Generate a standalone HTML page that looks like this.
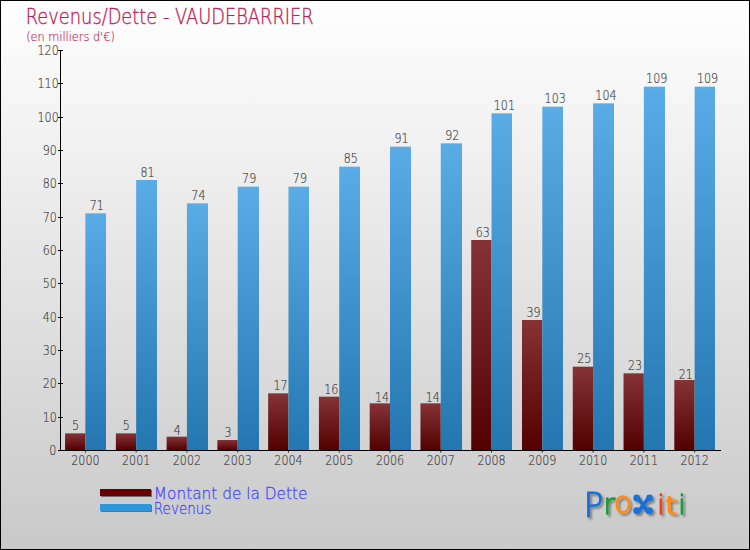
<!DOCTYPE html>
<html lang="fr"><head><meta charset="utf-8"><title>Revenus/Dette - VAUDEBARRIER</title>
<style>html,body{margin:0;padding:0;background:#fff}svg{display:block}text{font-family:"DejaVu Sans","Liberation Sans",sans-serif}</style>
</head><body>
<svg width="750" height="550" viewBox="0 0 750 550">
<defs>
<linearGradient id="bg" x1="0" y1="0" x2="0" y2="1"><stop offset="0" stop-color="#ffffff"/><stop offset="1" stop-color="#c9c9c9"/></linearGradient>
<linearGradient id="gr" x1="0" y1="0" x2="0" y2="1"><stop offset="0" stop-color="#853335"/><stop offset="1" stop-color="#520000"/></linearGradient>
<linearGradient id="gb" x1="0" y1="0" x2="0" y2="1"><stop offset="0" stop-color="#59ace5"/><stop offset="1" stop-color="#2376b0"/></linearGradient>
</defs>
<rect x="0" y="0" width="750" height="550" fill="#000"/>
<rect x="1" y="1" width="748" height="548" fill="url(#bg)"/>
<text transform="translate(25.8 23.8) scale(0.81 1)" font-size="22" fill="#bb2253" stroke="#bb2253" stroke-width="0.35" text-anchor="start" font-weight="200">Revenus/Dette - VAUDEBARRIER</text>
<text transform="translate(26.2 40.9) scale(0.87 1)" font-size="13" fill="#bb2253" stroke="#bb2253" stroke-width="0.18" text-anchor="start" font-weight="200">(en milliers d'€)</text>
<rect x="65.08" y="433.33" width="20.31" height="16.67" fill="url(#gr)"/>
<rect x="85.38" y="213.33" width="20.62" height="236.67" fill="url(#gb)"/>
<rect x="115.85" y="433.33" width="20.31" height="16.67" fill="url(#gr)"/>
<rect x="136.15" y="180" width="20.85" height="270" fill="url(#gb)"/>
<rect x="166.62" y="436.67" width="20.31" height="13.33" fill="url(#gr)"/>
<rect x="186.92" y="203.33" width="21.08" height="246.67" fill="url(#gb)"/>
<rect x="217.38" y="440" width="20.31" height="10" fill="url(#gr)"/>
<rect x="237.69" y="186.67" width="21.31" height="263.33" fill="url(#gb)"/>
<rect x="268.15" y="393.33" width="20.31" height="56.67" fill="url(#gr)"/>
<rect x="288.46" y="186.67" width="20.54" height="263.33" fill="url(#gb)"/>
<rect x="318.92" y="396.67" width="20.31" height="53.33" fill="url(#gr)"/>
<rect x="339.23" y="166.67" width="20.77" height="283.33" fill="url(#gb)"/>
<rect x="369.69" y="403.33" width="20.31" height="46.67" fill="url(#gr)"/>
<rect x="390" y="146.67" width="21" height="303.33" fill="url(#gb)"/>
<rect x="420.46" y="403.33" width="20.31" height="46.67" fill="url(#gr)"/>
<rect x="440.77" y="143.33" width="21.23" height="306.67" fill="url(#gb)"/>
<rect x="471.23" y="240" width="20.31" height="210" fill="url(#gr)"/>
<rect x="491.54" y="113.33" width="20.46" height="336.67" fill="url(#gb)"/>
<rect x="522" y="320" width="20.31" height="130" fill="url(#gr)"/>
<rect x="542.31" y="106.67" width="20.69" height="343.33" fill="url(#gb)"/>
<rect x="572.77" y="366.67" width="20.31" height="83.33" fill="url(#gr)"/>
<rect x="593.08" y="103.33" width="20.92" height="346.67" fill="url(#gb)"/>
<rect x="623.54" y="373.33" width="20.31" height="76.67" fill="url(#gr)"/>
<rect x="643.85" y="86.67" width="21.15" height="363.33" fill="url(#gb)"/>
<rect x="674.31" y="380" width="20.31" height="70" fill="url(#gr)"/>
<rect x="694.62" y="86.67" width="20.38" height="363.33" fill="url(#gb)"/>
<g fill="#000">
<rect x="60" y="50" width="1" height="401"/>
<rect x="60" y="450" width="661" height="1"/>
<rect x="58" y="50" width="5" height="1"/>
<rect x="58" y="83" width="5" height="1"/>
<rect x="58" y="117" width="5" height="1"/>
<rect x="58" y="150" width="5" height="1"/>
<rect x="58" y="183" width="5" height="1"/>
<rect x="58" y="217" width="5" height="1"/>
<rect x="58" y="250" width="5" height="1"/>
<rect x="58" y="283" width="5" height="1"/>
<rect x="58" y="317" width="5" height="1"/>
<rect x="58" y="350" width="5" height="1"/>
<rect x="58" y="383" width="5" height="1"/>
<rect x="58" y="417" width="5" height="1"/>
<rect x="58" y="450" width="5" height="1"/>
<rect x="84.88" y="450" width="1" height="2.6" fill-opacity="0.8"/>
<rect x="135.65" y="450" width="1" height="2.6" fill-opacity="0.8"/>
<rect x="186.42" y="450" width="1" height="2.6" fill-opacity="0.8"/>
<rect x="237.19" y="450" width="1" height="2.6" fill-opacity="0.8"/>
<rect x="287.96" y="450" width="1" height="2.6" fill-opacity="0.8"/>
<rect x="338.73" y="450" width="1" height="2.6" fill-opacity="0.8"/>
<rect x="389.5" y="450" width="1" height="2.6" fill-opacity="0.8"/>
<rect x="440.27" y="450" width="1" height="2.6" fill-opacity="0.8"/>
<rect x="491.04" y="450" width="1" height="2.6" fill-opacity="0.8"/>
<rect x="541.81" y="450" width="1" height="2.6" fill-opacity="0.8"/>
<rect x="592.58" y="450" width="1" height="2.6" fill-opacity="0.8"/>
<rect x="643.35" y="450" width="1" height="2.6" fill-opacity="0.8"/>
<rect x="694.12" y="450" width="1" height="2.6" fill-opacity="0.8"/>
</g>
<text transform="translate(58.7 54.9) scale(0.81 1)" font-size="13.7" fill="#3a3a3a" stroke="#3a3a3a" stroke-width="0.18" text-anchor="end" font-weight="200">120</text>
<text transform="translate(58.7 88.23) scale(0.81 1)" font-size="13.7" fill="#3a3a3a" stroke="#3a3a3a" stroke-width="0.18" text-anchor="end" font-weight="200">110</text>
<text transform="translate(58.7 121.57) scale(0.81 1)" font-size="13.7" fill="#3a3a3a" stroke="#3a3a3a" stroke-width="0.18" text-anchor="end" font-weight="200">100</text>
<text transform="translate(56.8 154.9) scale(0.81 1)" font-size="13.7" fill="#3a3a3a" stroke="#3a3a3a" stroke-width="0.18" text-anchor="end" font-weight="200">90</text>
<text transform="translate(56.8 188.23) scale(0.81 1)" font-size="13.7" fill="#3a3a3a" stroke="#3a3a3a" stroke-width="0.18" text-anchor="end" font-weight="200">80</text>
<text transform="translate(56.8 221.57) scale(0.81 1)" font-size="13.7" fill="#3a3a3a" stroke="#3a3a3a" stroke-width="0.18" text-anchor="end" font-weight="200">70</text>
<text transform="translate(56.8 254.9) scale(0.81 1)" font-size="13.7" fill="#3a3a3a" stroke="#3a3a3a" stroke-width="0.18" text-anchor="end" font-weight="200">60</text>
<text transform="translate(56.8 288.23) scale(0.81 1)" font-size="13.7" fill="#3a3a3a" stroke="#3a3a3a" stroke-width="0.18" text-anchor="end" font-weight="200">50</text>
<text transform="translate(56.8 321.57) scale(0.81 1)" font-size="13.7" fill="#3a3a3a" stroke="#3a3a3a" stroke-width="0.18" text-anchor="end" font-weight="200">40</text>
<text transform="translate(56.8 354.9) scale(0.81 1)" font-size="13.7" fill="#3a3a3a" stroke="#3a3a3a" stroke-width="0.18" text-anchor="end" font-weight="200">30</text>
<text transform="translate(56.8 388.23) scale(0.81 1)" font-size="13.7" fill="#3a3a3a" stroke="#3a3a3a" stroke-width="0.18" text-anchor="end" font-weight="200">20</text>
<text transform="translate(56.8 421.57) scale(0.81 1)" font-size="13.7" fill="#3a3a3a" stroke="#3a3a3a" stroke-width="0.18" text-anchor="end" font-weight="200">10</text>
<text transform="translate(56.3 454.9) scale(0.81 1)" font-size="13.7" fill="#3a3a3a" stroke="#3a3a3a" stroke-width="0.18" text-anchor="end" font-weight="200">0</text>
<text transform="translate(85.38 465.1) scale(0.81 1)" font-size="13.7" fill="#3a3a3a" stroke="#3a3a3a" stroke-width="0.18" text-anchor="middle" font-weight="200">2000</text>
<text transform="translate(136.15 465.1) scale(0.81 1)" font-size="13.7" fill="#3a3a3a" stroke="#3a3a3a" stroke-width="0.18" text-anchor="middle" font-weight="200">2001</text>
<text transform="translate(186.92 465.1) scale(0.81 1)" font-size="13.7" fill="#3a3a3a" stroke="#3a3a3a" stroke-width="0.18" text-anchor="middle" font-weight="200">2002</text>
<text transform="translate(237.69 465.1) scale(0.81 1)" font-size="13.7" fill="#3a3a3a" stroke="#3a3a3a" stroke-width="0.18" text-anchor="middle" font-weight="200">2003</text>
<text transform="translate(288.46 465.1) scale(0.81 1)" font-size="13.7" fill="#3a3a3a" stroke="#3a3a3a" stroke-width="0.18" text-anchor="middle" font-weight="200">2004</text>
<text transform="translate(339.23 465.1) scale(0.81 1)" font-size="13.7" fill="#3a3a3a" stroke="#3a3a3a" stroke-width="0.18" text-anchor="middle" font-weight="200">2005</text>
<text transform="translate(390 465.1) scale(0.81 1)" font-size="13.7" fill="#3a3a3a" stroke="#3a3a3a" stroke-width="0.18" text-anchor="middle" font-weight="200">2006</text>
<text transform="translate(440.77 465.1) scale(0.81 1)" font-size="13.7" fill="#3a3a3a" stroke="#3a3a3a" stroke-width="0.18" text-anchor="middle" font-weight="200">2007</text>
<text transform="translate(491.54 465.1) scale(0.81 1)" font-size="13.7" fill="#3a3a3a" stroke="#3a3a3a" stroke-width="0.18" text-anchor="middle" font-weight="200">2008</text>
<text transform="translate(542.31 465.1) scale(0.81 1)" font-size="13.7" fill="#3a3a3a" stroke="#3a3a3a" stroke-width="0.18" text-anchor="middle" font-weight="200">2009</text>
<text transform="translate(593.08 465.1) scale(0.81 1)" font-size="13.7" fill="#3a3a3a" stroke="#3a3a3a" stroke-width="0.18" text-anchor="middle" font-weight="200">2010</text>
<text transform="translate(643.85 465.1) scale(0.81 1)" font-size="13.7" fill="#3a3a3a" stroke="#3a3a3a" stroke-width="0.18" text-anchor="middle" font-weight="200">2011</text>
<text transform="translate(694.62 465.1) scale(0.81 1)" font-size="13.7" fill="#3a3a3a" stroke="#3a3a3a" stroke-width="0.18" text-anchor="middle" font-weight="200">2012</text>
<text transform="translate(75.63 429.83) scale(0.81 1)" font-size="13.7" fill="#3a3a3a" stroke="#3a3a3a" stroke-width="0.18" text-anchor="middle" font-weight="200">5</text>
<text transform="translate(96.84 209.83) scale(0.81 1)" font-size="13.7" fill="#3a3a3a" stroke="#3a3a3a" stroke-width="0.18" text-anchor="middle" font-weight="200">71</text>
<text transform="translate(126.4 429.83) scale(0.81 1)" font-size="13.7" fill="#3a3a3a" stroke="#3a3a3a" stroke-width="0.18" text-anchor="middle" font-weight="200">5</text>
<text transform="translate(147.61 176.5) scale(0.81 1)" font-size="13.7" fill="#3a3a3a" stroke="#3a3a3a" stroke-width="0.18" text-anchor="middle" font-weight="200">81</text>
<text transform="translate(177.17 434.87) scale(0.81 1)" font-size="13.7" fill="#3a3a3a" stroke="#3a3a3a" stroke-width="0.18" text-anchor="middle" font-weight="200">4</text>
<text transform="translate(198.38 199.83) scale(0.81 1)" font-size="13.7" fill="#3a3a3a" stroke="#3a3a3a" stroke-width="0.18" text-anchor="middle" font-weight="200">74</text>
<text transform="translate(227.94 436.5) scale(0.81 1)" font-size="13.7" fill="#3a3a3a" stroke="#3a3a3a" stroke-width="0.18" text-anchor="middle" font-weight="200">3</text>
<text transform="translate(249.15 183.17) scale(0.81 1)" font-size="13.7" fill="#3a3a3a" stroke="#3a3a3a" stroke-width="0.18" text-anchor="middle" font-weight="200">79</text>
<text transform="translate(280.51 389.83) scale(0.81 1)" font-size="13.7" fill="#3a3a3a" stroke="#3a3a3a" stroke-width="0.18" text-anchor="middle" font-weight="200">17</text>
<text transform="translate(299.92 183.17) scale(0.81 1)" font-size="13.7" fill="#3a3a3a" stroke="#3a3a3a" stroke-width="0.18" text-anchor="middle" font-weight="200">79</text>
<text transform="translate(331.28 393.97) scale(0.81 1)" font-size="13.7" fill="#3a3a3a" stroke="#3a3a3a" stroke-width="0.18" text-anchor="middle" font-weight="200">16</text>
<text transform="translate(350.68 163.17) scale(0.81 1)" font-size="13.7" fill="#3a3a3a" stroke="#3a3a3a" stroke-width="0.18" text-anchor="middle" font-weight="200">85</text>
<text transform="translate(382.05 401.53) scale(0.81 1)" font-size="13.7" fill="#3a3a3a" stroke="#3a3a3a" stroke-width="0.18" text-anchor="middle" font-weight="200">14</text>
<text transform="translate(401.45 143.17) scale(0.81 1)" font-size="13.7" fill="#3a3a3a" stroke="#3a3a3a" stroke-width="0.18" text-anchor="middle" font-weight="200">91</text>
<text transform="translate(432.82 401.53) scale(0.81 1)" font-size="13.7" fill="#3a3a3a" stroke="#3a3a3a" stroke-width="0.18" text-anchor="middle" font-weight="200">14</text>
<text transform="translate(452.22 139.83) scale(0.81 1)" font-size="13.7" fill="#3a3a3a" stroke="#3a3a3a" stroke-width="0.18" text-anchor="middle" font-weight="200">92</text>
<text transform="translate(482.68 236.5) scale(0.81 1)" font-size="13.7" fill="#3a3a3a" stroke="#3a3a3a" stroke-width="0.18" text-anchor="middle" font-weight="200">63</text>
<text transform="translate(504.39 109.83) scale(0.81 1)" font-size="13.7" fill="#3a3a3a" stroke="#3a3a3a" stroke-width="0.18" text-anchor="middle" font-weight="200">101</text>
<text transform="translate(533.45 316.5) scale(0.81 1)" font-size="13.7" fill="#3a3a3a" stroke="#3a3a3a" stroke-width="0.18" text-anchor="middle" font-weight="200">39</text>
<text transform="translate(555.16 103.17) scale(0.81 1)" font-size="13.7" fill="#3a3a3a" stroke="#3a3a3a" stroke-width="0.18" text-anchor="middle" font-weight="200">103</text>
<text transform="translate(584.22 363.17) scale(0.81 1)" font-size="13.7" fill="#3a3a3a" stroke="#3a3a3a" stroke-width="0.18" text-anchor="middle" font-weight="200">25</text>
<text transform="translate(605.93 99.83) scale(0.81 1)" font-size="13.7" fill="#3a3a3a" stroke="#3a3a3a" stroke-width="0.18" text-anchor="middle" font-weight="200">104</text>
<text transform="translate(634.99 369.83) scale(0.81 1)" font-size="13.7" fill="#3a3a3a" stroke="#3a3a3a" stroke-width="0.18" text-anchor="middle" font-weight="200">23</text>
<text transform="translate(656.7 83.17) scale(0.81 1)" font-size="13.7" fill="#3a3a3a" stroke="#3a3a3a" stroke-width="0.18" text-anchor="middle" font-weight="200">109</text>
<text transform="translate(685.76 378.7) scale(0.81 1)" font-size="13.7" fill="#3a3a3a" stroke="#3a3a3a" stroke-width="0.18" text-anchor="middle" font-weight="200">21</text>
<text transform="translate(707.47 83.17) scale(0.81 1)" font-size="13.7" fill="#3a3a3a" stroke="#3a3a3a" stroke-width="0.18" text-anchor="middle" font-weight="200">109</text>
<rect x="101" y="490" width="51" height="7" fill="#6e6e6e"/>
<rect x="100" y="489" width="51" height="7" fill="#660000"/>
<rect x="101" y="505" width="51" height="7" fill="#6e6e6e"/>
<rect x="100" y="504" width="51" height="7" fill="#3096dc"/>
<text transform="translate(153.8 499) scale(0.93 1)" font-size="16.5" fill="#4a4aff" stroke="#4a4aff" stroke-width="0.3" text-anchor="start" font-weight="200">Montant de la Dette</text>
<text transform="translate(153.8 513.6) scale(0.82 1)" font-size="16.5" fill="#4a4aff" stroke="#4a4aff" stroke-width="0.3" text-anchor="start" font-weight="200">Revenus</text>
<filter id="sh" x="-20%" y="-20%" width="150%" height="150%"><feGaussianBlur in="SourceAlpha" stdDeviation="0.8"/><feOffset dx="1.6" dy="1.6"/><feComponentTransfer><feFuncA type="linear" slope="0.4"/></feComponentTransfer><feMerge><feMergeNode/><feMergeNode in="SourceGraphic"/></feMerge></filter>
<g filter="url(#sh)" font-weight="400" text-anchor="middle">
<text transform="translate(593.6 517) scale(0.98 1)" font-size="33" font-weight="200" fill="#1a70d6" stroke="#1a70d6" stroke-width="1.2" stroke-linejoin="round">P</text>
<text transform="translate(609.2 513.6) scale(1 1)" font-size="28" font-weight="200" fill="#1c9a40" stroke="#1c9a40" stroke-width="1.3" stroke-linejoin="round">r</text>
<text transform="translate(623 513.4) scale(1 1)" font-size="30" font-weight="200" fill="#ff8a14" stroke="#ff8a14" stroke-width="1.3" stroke-linejoin="round">o</text>
<text transform="translate(643.1 513.2) scale(1 1)" font-size="26" font-weight="400" fill="#1a70d6" stroke="#1a70d6" stroke-width="1.5" stroke-linejoin="round">x</text>
<circle cx="636.7" cy="498" r="3.4" fill="#1a70d6"/>
<circle cx="649.5" cy="498" r="3.4" fill="#1a70d6"/>
<circle cx="636.7" cy="510.7" r="3.4" fill="#1a70d6"/>
<circle cx="649.5" cy="510.7" r="3.4" fill="#1a70d6"/>
<text transform="translate(661 514) scale(1 1)" font-size="27" font-weight="200" fill="#f03c1c" stroke="#f03c1c" stroke-width="1.3" stroke-linejoin="round">i</text>
<text transform="translate(671.3 513.8) scale(1.22 0.86)" font-size="28" font-weight="200" fill="#ff8a14" stroke="#ff8a14" stroke-width="1.3" stroke-linejoin="round">t</text>
<text transform="translate(682 514) scale(1 1)" font-size="27" font-weight="200" fill="#1c9a40" stroke="#1c9a40" stroke-width="1.3" stroke-linejoin="round">i</text>
</g>
</svg>
</body></html>
